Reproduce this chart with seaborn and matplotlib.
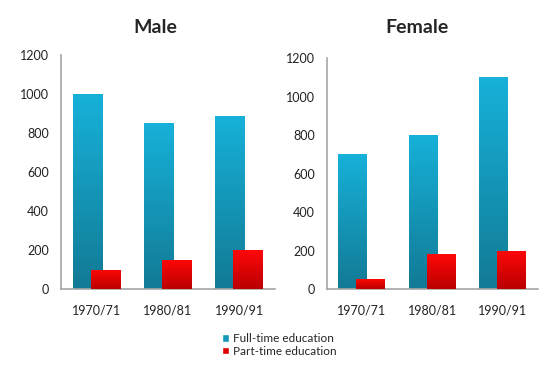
import numpy as np
import pandas as pd
import matplotlib
matplotlib.use('Agg')
import matplotlib.pyplot as plt
import seaborn as sns
from matplotlib.colors import LinearSegmentedColormap
from matplotlib.patches import Patch

years = ['1970/71', '1980/81', '1990/91']
male_full = [1000, 850, 890]
male_part = [100, 150, 200]
female_full = [700, 800, 1100]
female_part = [50, 180, 200]
series = ['Full-time education', 'Part-time education']

sns.set_style('white')
plt.rcParams['font.family'] = ['Lato', 'DejaVu Sans']

blue = '#16a3c9'
red = '#e00000'
blue_cmap = LinearSegmentedColormap.from_list('b', ['#127A95', '#17B1D9'])
red_cmap = LinearSegmentedColormap.from_list('r', ['#BA0000', '#FF0808'])
grad = np.linspace(0, 1, 256).reshape(-1, 1)


def draw(ax, full, part):
    df = pd.DataFrame({'year': years * 2,
                       'value': full + part,
                       'type': [series[0]] * 3 + [series[1]] * 3})
    sns.barplot(data=df, x='year', y='value', hue='type', palette=[blue, red],
                width=0.82, saturation=1, legend=False, ax=ax)
    # overlap the two bars like the original office chart
    for p in list(ax.patches):
        fc = matplotlib.colors.to_hex(p.get_facecolor())
        if fc == blue:
            p.set_x(p.get_x() + 0.075)
            cmap, z = blue_cmap, 2
        else:
            p.set_x(p.get_x() - 0.08)
            cmap, z = red_cmap, 3
        x, y, w, h = p.get_x(), p.get_y(), p.get_width(), p.get_height()
        p.set_facecolor('none')
        p.set_edgecolor('none')
        im = ax.imshow(grad, extent=[x, x + w, y, y + h], origin='lower',
                       aspect='auto', cmap=cmap, zorder=z)
        im.set_clip_path(p)
    ax.set_xlim(-0.5, 2.5)
    ax.set_ylim(0, 1200)
    ax.set_yticks(range(0, 1201, 200))
    ax.set_xlabel('')
    ax.set_ylabel('')
    sns.despine(ax=ax)
    for s in ['left', 'bottom']:
        ax.spines[s].set_color('#a6a6a6')
        ax.spines[s].set_linewidth(1.2)
    ax.tick_params(axis='y', length=0, pad=8.5, labelsize=9, labelcolor='#222222')
    ax.tick_params(axis='x', length=0, pad=11, labelsize=9, labelcolor='#222222')


fig = plt.figure(figsize=(5.53, 3.72), dpi=100)
ax1 = fig.add_axes([0.110, 0.223, 0.387, 0.629])
ax2 = fig.add_axes([0.591, 0.223, 0.382, 0.621])
draw(ax1, male_full, male_part)
draw(ax2, female_full, female_part)

fig.text(155 / 553, 0.925, 'Male', ha='center', va='center', fontsize=14, fontweight='bold')
fig.text(417 / 553, 0.927, 'Female', ha='center', va='center', fontsize=14, fontweight='bold')

handles = [Patch(facecolor='#1597BA'), Patch(facecolor='#e00000')]
fig.legend(handles, series, loc='upper left', bbox_to_anchor=(222 / 553, 1 - 333 / 372),
           frameon=False, fontsize=8.5, handlelength=0.6, handleheight=0.6,
           handletextpad=0.35, labelspacing=0.15, borderpad=0, borderaxespad=0)

fig.savefig('out.png', dpi=100)
